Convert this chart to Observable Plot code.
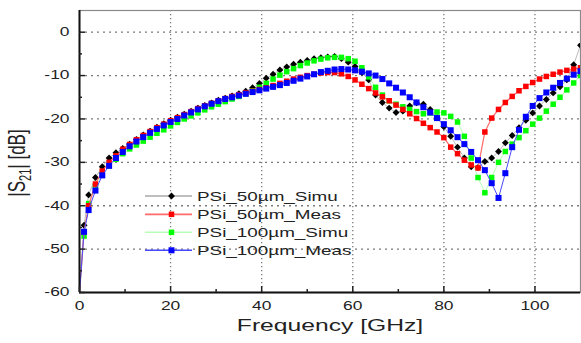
<!DOCTYPE html>
<html><head><meta charset="utf-8">
<script src="https://cdn.jsdelivr.net/npm/d3@7"></script>
<script src="https://cdn.jsdelivr.net/npm/@observablehq/plot@0.6"></script>
<style>body{margin:0;background:#fff;} svg{display:block}</style>
</head><body><div id="chart"></div>
<script>
const FONT = "'Liberation Sans', Arial, Helvetica, sans-serif";
const STRETCH = 1.45;

// Frequency grid (GHz)
const freq = [0, 1, 2, 3.5, 5, 6.5, 8, 9.5, 11, 12.5, 14, 15.5, 17, 18.5, 20, 21.5, 23, 24.5, 26, 27.5, 29, 30.5, 32, 33.5, 35, 36.5, 38, 39.5, 41, 42.5, 44, 45.5, 47, 48.5, 50, 51.5, 53, 54.5, 56, 57.5, 59, 60.5, 62, 63.5, 65, 66.5, 68, 69.5, 71, 72.5, 74, 75.5, 77, 78.5, 80, 81.5, 83, 84.5, 86, 87.5, 89, 90.5, 92, 93.5, 95, 96.5, 98, 99.5, 101, 102.5, 104, 105.5, 107, 108.5, 110];

// |S21| in dB
const simu50 = [-60, -44.5, -37.5, -33.5, -31, -29, -27.8, -26.8, -25.8, -24.7, -23.7, -22.8, -21.9, -21.1, -20.3, -19.6, -18.9, -18.2, -17.5, -16.9, -16.3, -15.7, -15.2, -14.7, -14.2, -13.6, -12.8, -11.8, -10.6, -9.7, -8.7, -8, -7.4, -6.9, -6.5, -6.1, -5.9, -5.7, -5.6, -6.1, -6.9, -7.9, -9.3, -11, -14.5, -16.2, -17.5, -18.5, -18.2, -17, -16.3, -16.6, -17.8, -19.7, -21.8, -24, -26.5, -29, -31, -31.2, -29.8, -29, -27.5, -25.5, -23.8, -22, -20.3, -18.6, -17, -15.5, -14, -12.6, -11, -7.5, -3];
const meas50 = [-60, -46, -40, -35, -32, -30, -28.5, -27, -25.9, -24.8, -23.8, -22.9, -22, -21.2, -20.4, -19.7, -19, -18.3, -17.6, -17, -16.4, -15.8, -15.3, -14.8, -14.4, -14, -13.6, -13.2, -12.8, -12.3, -11.8, -11.3, -10.8, -10.4, -10, -9.7, -9.4, -9.3, -9.3, -9.6, -10.2, -11, -12, -13, -14, -14.9, -15.8, -16.8, -17.8, -18.8, -19.9, -21, -22, -23, -24.3, -26.5, -28, -29.5, -30.6, -31.3, -23, -19.8, -17.8, -16.2, -14.8, -13.5, -12.5, -11.6, -10.8, -10.2, -9.7, -9.2, -8.8, -8.5, -8.2];
const simu100 = [-60, -47, -39.5, -35.5, -32.8, -30.8, -29.3, -28, -26.9, -26, -25.1, -24.2, -23.3, -22.5, -21.6, -20.8, -20, -19.3, -18.6, -17.9, -17.2, -16.6, -16, -15.4, -14.8, -14.2, -13.5, -12.7, -11.8, -10.8, -9.9, -9.1, -8.4, -7.7, -7.1, -6.6, -6.2, -5.9, -5.8, -5.8, -6.1, -6.7, -8.2, -10.3, -12.7, -14.5, -15.8, -16.6, -17.2, -17.8, -18.3, -18.8, -18.6, -18.4, -18.6, -19.4, -20.7, -24, -29, -33.5, -37, -33.5, -30, -27.5, -25.8, -24.3, -22.7, -21.2, -19.8, -18.2, -16.6, -15, -13.3, -11.7, -10];
const meas100 = [-60, -46, -41, -36.5, -33, -30.8, -29, -27.6, -26.3, -25.2, -24.2, -23.2, -22.3, -21.5, -20.7, -20, -19.2, -18.5, -17.8, -17.1, -16.5, -15.9, -15.4, -15, -14.6, -14.2, -13.8, -13.4, -13, -12.6, -12.2, -11.7, -11.2, -10.7, -10.2, -9.7, -9.2, -8.9, -8.6, -8.5, -8.6, -8.8, -9.1, -9.5, -10, -10.8, -11.8, -12.8, -13.9, -15, -16.2, -17.3, -18.5, -19.8, -21.2, -22.6, -24.2, -25.8, -27.6, -29.5, -31.8, -34.8, -38.2, -32.5, -26.5, -22.5, -19.5, -17, -15.2, -13.9, -12.8, -11.7, -10.7, -9.8, -9];

const names = ["PSi_50µm_Simu", "PSi_50µm_Meas", "PSi_100µm_Simu", "PSi_100µm_Meas"];
const xTicks = [0, 20, 40, 60, 80, 100];
const xMinor = [10, 30, 50, 70, 90];
const yTicks = [0, -10, -20, -30, -40, -50, -60];
const yMinor = [-5, -15, -25, -35, -45, -55];
const xGrid = [20, 40, 60, 80, 100];
const yGrid = [0, -10, -20, -30, -40, -50];
const xTitle = "Frequency [GHz]";

const series = {
  [names[0]]: {values: simu50, line: "#a8a8a8", lw: 0.8, fill: "#000000", symbol: "diamond2", r: 3.1},
  [names[1]]: {values: meas50, line: "#ff6a6a", lw: 1.2, fill: "#ff0000", symbol: "square", r: 3.1},
  [names[2]]: {values: simu100, line: "#b8ffb8", lw: 1, fill: "#00ff00", symbol: "square", r: 3.1},
  [names[3]]: {values: meas100, line: "#4848ff", lw: 1, fill: "#0000ff", symbol: "square", r: 3.4}
};
const drawOrder = [names[0], names[2], names[1], names[3]];

const seriesMarks = drawOrder.flatMap(n => {
  const s = series[n];
  const data = freq.map((f, i) => ({f, v: s.values[i]}));
  return [
    Plot.line(data, {x: "f", y: "v", stroke: s.line, strokeWidth: s.lw, clip: true}),
    Plot.dot(data.filter(d => d.f > 0), {x: "f", y: "v", symbol: s.symbol, r: s.r, fill: s.fill, stroke: "none", clip: true})
  ];
});

const chart = Plot.plot({
  width: 581, height: 343,
  marginLeft: 79, marginRight: 1, marginTop: 10, marginBottom: 51,
  x: {domain: [0, 110]},
  y: {domain: [-60, 5]},
  style: {fontFamily: FONT, fontSize: "12px", color: "#222", background: "white", overflow: "visible"},
  marks: [
    Plot.gridX(xGrid, {stroke: "#7a7a7a", strokeOpacity: 1, strokeWidth: 1.3, strokeDasharray: "1.3,2.7"}),
    Plot.gridY(yGrid, {stroke: "#7a7a7a", strokeOpacity: 1, strokeWidth: 1.3, strokeDasharray: "2,4"}),
    Plot.frame({stroke: "#8a8a8a", strokeWidth: 1.2}),
    ...seriesMarks,
    Plot.ruleX([0], {stroke: "#111", strokeWidth: 2}),
    Plot.ruleY([-60], {stroke: "#111", strokeWidth: 2}),
    Plot.axisX({ticks: xTicks, tickSize: 0, tickPadding: 9, tickFormat: d => String(d), label: null, fontSize: 12}),
    Plot.axisX({ticks: xTicks, tickSize: -6, tickFormat: () => "", label: null, strokeWidth: 1.5}),
    Plot.axisX({ticks: xMinor, tickSize: -3, tickFormat: () => "", label: null, strokeWidth: 1.5}),
    Plot.axisY({ticks: yTicks, tickSize: 0, tickPadding: 10, tickFormat: d => String(d), label: null, fontSize: 12}),
    Plot.axisY({ticks: yTicks, tickSize: -6, tickFormat: () => "", label: null, strokeWidth: 1.5}),
    Plot.axisY({ticks: yMinor, tickSize: -3, tickFormat: () => "", label: null, strokeWidth: 1.5})
  ]
});
document.getElementById("chart").append(chart);

const svg = d3.select(chart);

// x title
svg.append("text").attr("class", "xtitle")
  .attr("x", 330).attr("y", 331).attr("text-anchor", "middle")
  .attr("font-family", FONT).attr("font-size", 17).attr("fill", "#222")
  .text(xTitle);

// y title with subscript
const yt = svg.append("text")
  .attr("transform", `translate(25,163) rotate(-90) scale(1,${STRETCH})`)
  .attr("text-anchor", "middle").attr("font-family", FONT).attr("font-size", 17).attr("fill", "#222");
yt.append("tspan").text("|S");
yt.append("tspan").attr("font-size", 11).attr("dy", 4).text("21");
yt.append("tspan").attr("dy", -4).text("| [dB]");

// legend
const legendRows = [196, 214.3, 232.3, 250.3];
const lg = svg.append("g").attr("class", "legend").attr("text-anchor", "start");
names.forEach((n, i) => {
  const s = series[n];
  const y = legendRows[i];
  lg.append("line").attr("x1", 145).attr("x2", 192).attr("y1", y).attr("y2", y)
    .attr("stroke", s.line).attr("stroke-width", s.lw + 0.6);
  const sym = s.symbol === "diamond2" ? d3.symbolDiamond2 : d3.symbolSquare;
  lg.append("path").attr("transform", `translate(171.5,${y})`)
    .attr("d", d3.symbol(sym, Math.PI * s.r * s.r)()).attr("fill", s.fill);
  lg.append("text").attr("class", "legtext").attr("x", 197).attr("y", y + 4.7)
    .attr("text-anchor", "start")
    .attr("font-family", FONT).attr("font-size", 13).attr("fill", "#222").text(n);
});

// horizontal stretch of text glyphs (reference is stretched horizontally)
chart.querySelectorAll("text").forEach(t => {
  if (t.querySelector("tspan")) return;
  const txt = t.textContent;
  if (!txt) return;
  const w = t.getComputedTextLength();
  if (w > 0) {
    t.setAttribute("textLength", (w * STRETCH).toFixed(2));
    t.setAttribute("lengthAdjust", "spacingAndGlyphs");
  }
});
</script>
</body></html>
